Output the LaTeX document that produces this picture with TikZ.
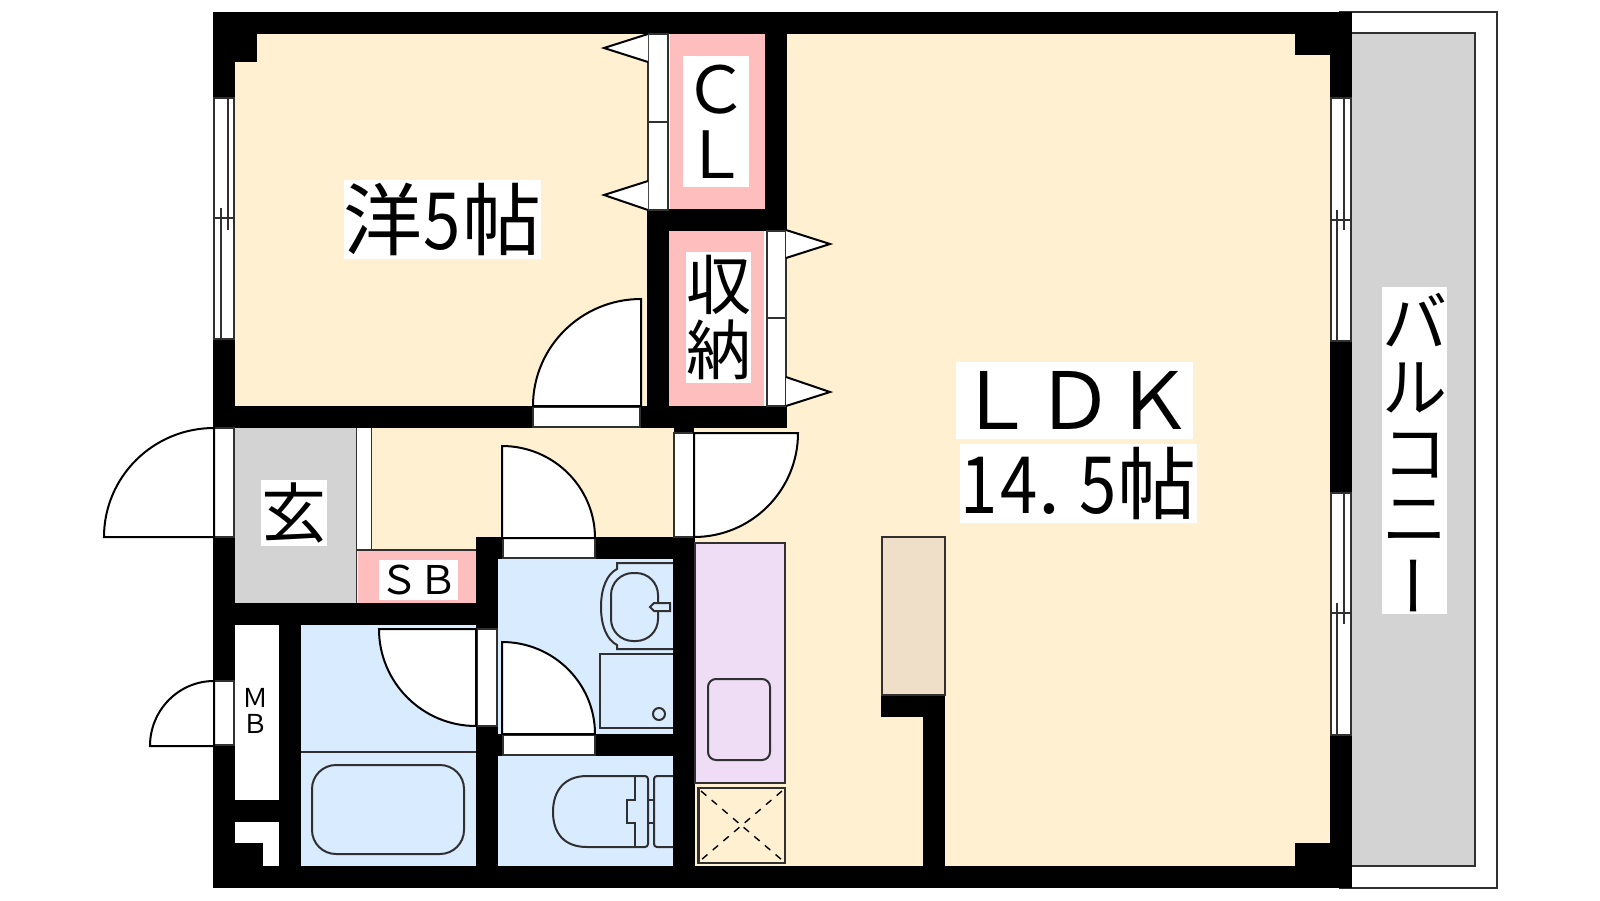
\documentclass[tikz,border=0pt]{standalone}
\usepackage{fontspec}
\usepackage{graphicx}
\setmainfont{Noto Sans CJK JP}
\definecolor{floorc}{HTML}{FEF0D1}
\definecolor{pinkc}{HTML}{FFBEBE}
\definecolor{grayc}{HTML}{D3D3D3}
\definecolor{bluec}{HTML}{D9EBFF}
\definecolor{purplec}{HTML}{EEDDF5}
\definecolor{tanc}{HTML}{EFDFC8}
\definecolor{linec}{HTML}{303030}
\tikzset{
  wall/.style={fill=black,draw=none},
  thinline/.style={draw=linec,line width=1.7pt},
  strip/.style={fill=white,draw=linec,line width=1.7pt},
  fixture/.style={draw=linec,line width=2pt},
  leaf/.style={fill=white,draw=black,line width=2pt},
  bigtext/.style={fill=white,inner sep=0pt,align=center,text=black},
}
\newcommand\doorleaf[6]{%
  \path[leaf] (#1,#2) -- (#3,#4) .. controls ({#3+0.5523*(#5-#1)},{#4+0.5523*(#6-#2)}) and ({#5+0.5523*(#3-#1)},{#6+0.5523*(#4-#2)}) .. (#5,#6) -- cycle;}
\newcommand\fsz[2]{\fontsize{#1}{#2}\selectfont}
\newcommand\hw[1]{\makebox[39.5pt]{\scalebox{.85}[1]{#1}}}
\begin{document}
\begin{tikzpicture}[x=1pt,y=-1pt]
\useasboundingbox (0,0) rectangle (1600,900);
\fill[white] (0,0) rectangle (1600,900);
% balcony
\path[fill=white,draw=linec,line width=1.7pt] (1340,12) rectangle (1497,888);
\path[fill=grayc,draw=linec,line width=1.7pt] (1345,33) rectangle (1475,866);
% floor
\fill[floorc] (235,34) rectangle (1330,866);
% rooms
\fill[grayc] (235,428) rectangle (356,603);
\fill[white] (356,428) rectangle (372,550);
\draw[thinline] (356.5,428) -- (356.5,603) (371.5,428) -- (371.5,550) (356,550) -- (476,550);
\fill[pinkc] (357.5,551) rectangle (476,603);
\fill[pinkc] (670,34) rectangle (765,209);
\fill[pinkc] (669,231) rectangle (764,406);
\fill[white] (235,625) rectangle (279,800);
\fill[white] (235,822) rectangle (279,866);
\fill[bluec] (301,625) rectangle (476,866);
\fill[bluec] (498,559) rectangle (673,734);
\fill[bluec] (498,756) rectangle (673,866);
\draw[thinline] (301,752) -- (476,752);
% walls
\path[wall] (213,12) rectangle (1352,34);
\path[wall] (213,12) rectangle (235,98);
\path[wall] (213,339) rectangle (235,428);
\path[wall] (213,537) rectangle (235,681);
\path[wall] (213,745) rectangle (235,888);
\path[wall] (235,34) rectangle (257,62);
\path[wall] (213,866) rectangle (1352,888);
\path[wall] (1330,12) rectangle (1352,98);
\path[wall] (1330,341) rectangle (1352,493);
\path[wall] (1330,735) rectangle (1352,888);
\path[wall] (1295,34) rectangle (1330,55);
\path[wall] (1295,843) rectangle (1330,866);
\path[wall] (213,406) rectangle (533,428);
\path[wall] (641,406) rectangle (787,428);
\path[wall] (674,428) rectangle (694,433);
\path[wall] (765,34) rectangle (787,231);
\path[wall] (648,209) rectangle (787,231);
\path[wall] (647,209) rectangle (669,406);
\path[wall] (235,603) rectangle (498,625);
\path[wall] (279,625) rectangle (301,866);
\path[wall] (235,800) rectangle (279,822);
\path[wall] (235,843) rectangle (263,866);
\path[wall] (476,537) rectangle (498,629);
\path[wall] (476,726) rectangle (498,866);
\path[wall] (476,537) rectangle (503,559);
\path[wall] (595,537) rectangle (695,559);
\path[wall] (673,537) rectangle (695,888);
\path[wall] (476,734) rectangle (503,756);
\path[wall] (595,734) rectangle (695,756);
\path[wall] (881,695) rectangle (945,717);
\path[wall] (923,695) rectangle (945,866);
% tall fixture
\path[fill=tanc,draw=linec,line width=1.7pt] (882,537) rectangle (945,695);
% kitchen
\path[fill=purplec,draw=linec,line width=1.7pt] (695,543) rectangle (785,783);
\path[fixture,rounded corners=8pt] (708,679) rectangle (770,760);
\path[fixture,line width=2.2pt] (698.5,788) rectangle (785,863);
\draw[black,line width=1.4pt,dash pattern=on 7pt off 7pt] (701,791) -- (782,860) (782,791) -- (701,860);
% windows, left
\path[strip] (214,98) rectangle (234,339);
\draw[thinline] (213,218) -- (235,218) (228,98) -- (228,230) (221,208) -- (221,339);
% windows, right
\path[strip] (1331,98) rectangle (1351,341);
\draw[thinline] (1330,220) -- (1352,220) (1344,98) -- (1344,230) (1337,210) -- (1337,341);
\path[strip] (1331,493) rectangle (1351,735);
\draw[thinline] (1330,613) -- (1352,613) (1344,493) -- (1344,624) (1337,603) -- (1337,735);
% CL sliding doors
\fill[white] (648,34) rectangle (670,209);
\path[strip] (648,34) rectangle (668,122);
\path[strip] (648,122) rectangle (668,210);
\path[leaf] (648,34) -- (604,48) -- (648,62);
\path[leaf] (648,181) -- (604,195) -- (648,210);
% storage sliding doors
\fill[white] (764,231) rectangle (767,406);
\path[strip] (767,231) rectangle (786,318);
\path[strip] (767,318) rectangle (786,406);
\path[leaf] (786,230) -- (830,244) -- (786,258);
\path[leaf] (786,377) -- (830,392) -- (786,406);
% door strips
\path[strip] (533,407.5) rectangle (640,427);
\path[strip] (214,428) rectangle (234,537);
\path[strip] (214,681) rectangle (234,745);
\path[strip] (674,433) rectangle (694,537);
\path[strip] (503,538) rectangle (595,558);
\path[strip] (503,735) rectangle (595,755);
\path[strip] (477,629) rectangle (497,726);
% door leaves
\doorleaf{641}{406}{533}{406}{641}{299}
\doorleaf{214}{537}{214}{428}{104}{537}
\doorleaf{214}{746}{214}{681}{150}{746}
\doorleaf{694}{433}{798}{433}{694}{537}
\doorleaf{502}{538}{502}{446}{595}{538}
\doorleaf{502}{734}{502}{642}{595}{734}
\doorleaf{476}{629}{379}{629}{476}{726}
% bath
\path[fixture,rounded corners=24pt] (312,765) rectangle (464,854);
% wash basin
\draw[fixture] (673,563) -- (617,563) -- (617,569) .. controls (607,574) and (601,588) .. (601,607) .. controls (601,626) and (607,640) .. (617,645) -- (617,649) -- (673,649);
\path[fixture,rounded corners=22pt] (611,573) rectangle (658,641);
\path[fixture,fill=bluec] (670,603) -- (654,603) -- (650,607) -- (654,611) -- (670,611) -- cycle;
\draw[fixture] (673,654) -- (600,654) -- (600,728) -- (673,728);
\draw[fixture] (659,714) circle[radius=6];
% toilet
\draw[fixture] (635,776) -- (587,776) .. controls (565,776) and (553,790) .. (553,812) .. controls (553,834) and (565,847) .. (587,847) -- (635,847);
\draw[fixture] (635,776) -- (635,800) -- (627,800) -- (627,823) -- (635,823) -- (635,847);
\draw[fixture,rounded corners=3pt] (635,776) -- (648,776) -- (648,847) -- (635,847);
\draw[fixture] (648,800) -- (654,800) (648,823) -- (654,823);
\draw[fixture,rounded corners=3pt] (673,776) -- (654,776) -- (654,847) -- (673,847);
% labels
\node[bigtext,font=\fsz{79}{79},minimum width=197pt,minimum height=79pt] (yo) at (442.5,219.5) {洋\hw{5}帖};
\node[bigtext,font=\fsz{65}{65.5},minimum width=66pt,minimum height=131pt] (cl) at (716,121.5) {Ｃ\\Ｌ};
\node[bigtext,font=\fsz{65}{65.5},minimum width=65pt,minimum height=131pt] (shuno) at (718.5,317.5) {収\\納};
\node[bigtext,font=\fsz{65}{65},minimum width=66pt,minimum height=66pt] (gen) at (294,513) {玄};
\node[bigtext,font=\fsz{39.5}{39.5},minimum width=79pt,minimum height=40pt] (sb) at (418.5,580) {ＳＢ};
\node[text=black,font=\fsz{26}{26},inner sep=0pt,align=center] (mb) at (255,711) {Ｍ\\Ｂ};
\node[bigtext,font=\fsz{79}{79},minimum width=237pt,minimum height=77pt] (ldk) at (1074.5,400.5) {ＬＤＫ};
\node[bigtext,font=\fsz{79}{79},minimum width=236pt,minimum height=79pt] (area) at (1078,483.5) {\hw{1}\hw{4}\makebox[39.5pt][l]{.}\hw{5}帖};
\node[bigtext,font=\fsz{65}{65.5},minimum width=65pt,minimum height=327pt] (bal) at (1414.5,450.5) {バ\\ル\\コ\\ニ\\\hspace*{20pt}\smash{\raisebox{8pt}{\rotatebox[origin=c]{90}{ー}}}};
\end{tikzpicture}
\end{document}
